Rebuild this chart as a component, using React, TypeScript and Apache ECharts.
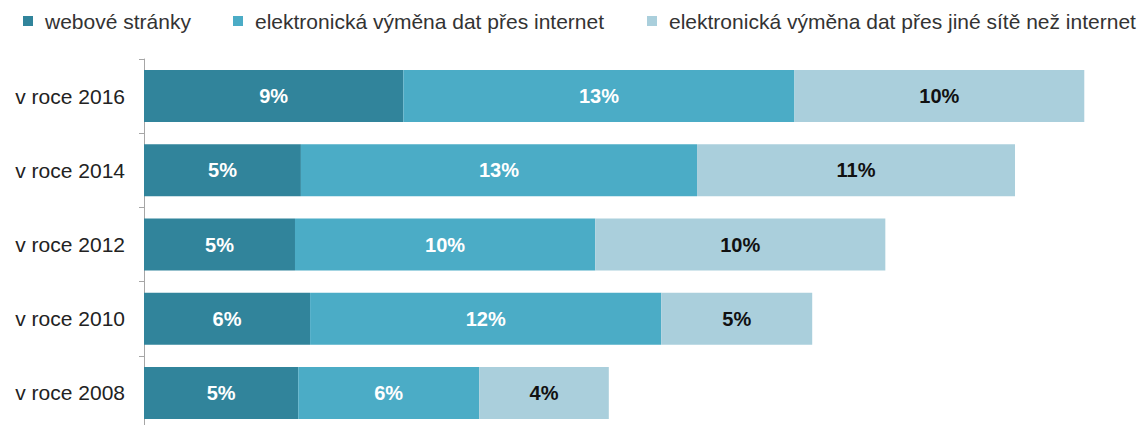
import React, { useEffect, useRef } from "react";
import * as echarts from "echarts";

const categories = ["v roce 2016", "v roce 2014", "v roce 2012", "v roce 2010", "v roce 2008"];
const seriesNames = [
  "webové stránky",
  "elektronická výměna dat přes internet",
  "elektronická výměna dat přes jiné sítě než internet",
];
const webValues = [8.76, 5.3, 5.1, 5.61, 5.21];
const ediInternetValues = [13.21, 13.38, 10.14, 11.86, 6.11];
const ediOtherValues = [9.79, 10.74, 9.8, 5.1, 4.38];

const colors = ["#31849B", "#4BACC6", "#AACFDC"];
const labelColors = ["#ffffff", "#ffffff", "#111111"];
const legendLefts = [23, 233, 647];

export default function App() {
  const ref = useRef<HTMLDivElement>(null);
  useEffect(() => {
    if (!ref.current) return;
    const chart = echarts.init(ref.current, undefined, { renderer: "svg" });
    const font = "'Liberation Sans', Arial, sans-serif";
    const data = [webValues, ediInternetValues, ediOtherValues];
    chart.setOption({
      animation: false,
      textStyle: { fontFamily: font },
      legend: seriesNames.map((n, i) => ({
        data: [n],
        left: legendLefts[i],
        top: 10,
        padding: 0,
        itemWidth: 10,
        itemHeight: 10,
        icon: "rect",
        selectedMode: false,
        textStyle: {
          fontFamily: font,
          fontSize: 21,
          color: "#333333",
          padding: [0, 0, 0, 7],
          lineHeight: 22,
        },
      })),
      grid: { left: 144, width: 977, top: 59, bottom: 0, containLabel: false },
      xAxis: {
        type: "value",
        min: 0,
        max: 33,
        show: false,
        splitLine: { show: false },
      },
      yAxis: {
        type: "category",
        data: categories,
        inverse: true,
        axisLine: { show: true, lineStyle: { color: "#A6A6A6", width: 1 } },
        axisTick: { show: true, length: 5, lineStyle: { color: "#A6A6A6" } },
        axisLabel: { margin: 19, fontSize: 21, color: "#222222", fontFamily: font },
      },
      series: seriesNames.map((n, i) => ({
        name: n,
        type: "bar",
        stack: "total",
        barWidth: 52,
        data: data[i],
        itemStyle: { color: colors[i] },
        label: {
          show: true,
          position: "inside",
          formatter: (p: any) => Math.round(p.value) + "%",
          fontFamily: font,
          fontWeight: "bold",
          fontSize: 20,
          color: labelColors[i],
        },
      })),
    });
    return () => chart.dispose();
  }, []);
  return (
    <div
      ref={ref}
      style={{ position: "fixed", left: 0, top: 0, width: 1146, height: 430, background: "#ffffff" }}
    />
  );
}
